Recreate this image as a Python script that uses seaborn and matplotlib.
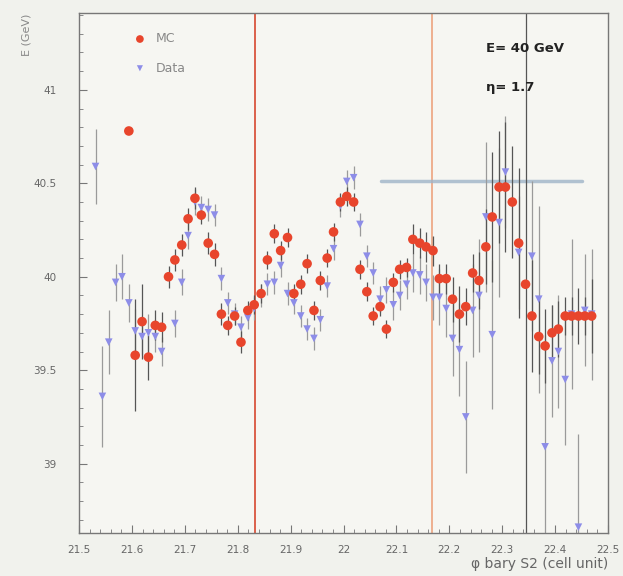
import numpy as np
import pandas as pd
import matplotlib
matplotlib.use("Agg")
import matplotlib.pyplot as plt
from matplotlib.ticker import MultipleLocator
import seaborn as sns

# --- MC points (phi bary S2, E, error) ---
mc_x = [21.594, 21.606, 21.619, 21.631, 21.644, 21.656, 21.669, 21.681, 21.694, 21.706,
        21.719, 21.731, 21.744, 21.756, 21.769, 21.781, 21.794, 21.806, 21.819, 21.831,
        21.844, 21.856, 21.869, 21.881, 21.894, 21.906, 21.919, 21.931, 21.944, 21.956,
        21.969, 21.981, 21.994, 22.006, 22.019, 22.031, 22.044, 22.056, 22.069, 22.081,
        22.094, 22.106, 22.119, 22.131, 22.144, 22.156, 22.169, 22.181, 22.194, 22.206,
        22.219, 22.231, 22.244, 22.256, 22.269, 22.281, 22.294, 22.306, 22.319, 22.331,
        22.344, 22.356, 22.369, 22.381, 22.394, 22.406, 22.419, 22.431, 22.444, 22.456,
        22.469]
mc_y = [40.78, 39.58, 39.76, 39.57, 39.74, 39.73, 40.00, 40.09, 40.17, 40.31,
        40.42, 40.33, 40.18, 40.12, 39.80, 39.74, 39.79, 39.65, 39.82, 39.85,
        39.91, 40.09, 40.23, 40.14, 40.21, 39.91, 39.96, 40.07, 39.82, 39.98,
        40.10, 40.24, 40.40, 40.43, 40.40, 40.04, 39.92, 39.79, 39.84, 39.72,
        39.97, 40.04, 40.05, 40.20, 40.18, 40.16, 40.14, 39.99, 39.99, 39.88,
        39.80, 39.84, 40.02, 39.98, 40.16, 40.32, 40.48, 40.48, 40.40, 40.18,
        39.96, 39.79, 39.68, 39.63, 39.70, 39.72, 39.79, 39.79, 39.79, 39.79,
        39.79]
mc_err = [0.0, 0.30, 0.20, 0.12, 0.08, 0.08, 0.06, 0.06, 0.06, 0.06,
          0.06, 0.05, 0.06, 0.06, 0.06, 0.05, 0.05, 0.06, 0.05, 0.05,
          0.05, 0.05, 0.05, 0.05, 0.05, 0.05, 0.05, 0.05, 0.05, 0.05,
          0.05, 0.05, 0.05, 0.05, 0.05, 0.05, 0.05, 0.05, 0.05, 0.05,
          0.05, 0.05, 0.05, 0.08, 0.08, 0.08, 0.08, 0.08, 0.08, 0.12,
          0.15, 0.10, 0.10, 0.15, 0.20, 0.35, 0.30, 0.35, 0.30, 0.40,
          1.50, 0.30, 0.20, 0.20, 0.15, 0.15, 0.10, 0.10, 0.15, 0.10,
          0.20]

# --- Data points ---
data_x = [21.531, 21.544, 21.556, 21.569, 21.581, 21.594, 21.606, 21.619, 21.631, 21.644,
          21.656, 21.681, 21.694, 21.706, 21.719, 21.731, 21.744, 21.756, 21.769, 21.781,
          21.794, 21.806, 21.819, 21.831, 21.844, 21.856, 21.869, 21.881, 21.894, 21.906,
          21.919, 21.931, 21.944, 21.956, 21.969, 21.981, 21.994, 22.006, 22.019, 22.031,
          22.044, 22.056, 22.069, 22.081, 22.094, 22.106, 22.119, 22.131, 22.144, 22.156,
          22.169, 22.181, 22.194, 22.206, 22.219, 22.231, 22.244, 22.256, 22.269, 22.281,
          22.294, 22.306, 22.331, 22.356, 22.369, 22.381, 22.394, 22.406, 22.419, 22.431,
          22.444, 22.456, 22.469]
data_y = [40.59, 39.36, 39.65, 39.97, 40.00, 39.86, 39.71, 39.68, 39.70, 39.68,
          39.60, 39.75, 39.97, 40.22, 40.40, 40.37, 40.36, 40.33, 39.99, 39.86,
          39.80, 39.73, 39.78, 39.83, 39.90, 39.96, 39.97, 40.06, 39.91, 39.86,
          39.79, 39.72, 39.67, 39.77, 39.95, 40.15, 40.38, 40.51, 40.53, 40.28,
          40.11, 40.02, 39.88, 39.93, 39.85, 39.90, 39.96, 40.02, 40.01, 39.97,
          39.89, 39.89, 39.83, 39.67, 39.61, 39.25, 39.82, 39.90, 40.32, 39.69,
          40.29, 40.56, 40.13, 40.11, 39.88, 39.09, 39.55, 39.60, 39.45, 39.80,
          38.66, 39.82, 39.80]
data_err = [0.20, 0.27, 0.17, 0.10, 0.12, 0.10, 0.12, 0.10, 0.10, 0.08,
            0.08, 0.07, 0.07, 0.07, 0.07, 0.06, 0.06, 0.06, 0.06, 0.06,
            0.06, 0.06, 0.06, 0.06, 0.06, 0.06, 0.06, 0.06, 0.06, 0.06,
            0.06, 0.06, 0.06, 0.06, 0.06, 0.06, 0.06, 0.06, 0.06, 0.06,
            0.06, 0.06, 0.07, 0.07, 0.08, 0.08, 0.08, 0.10, 0.10, 0.10,
            0.12, 0.15, 0.15, 0.20, 0.25, 0.30, 0.25, 0.30, 0.40, 0.40,
            0.40, 0.30, 0.30, 0.40, 0.50, 0.60, 0.30, 0.30, 0.35, 0.40,
            0.50, 0.30, 0.35]

# vertical cell-boundary lines and the horizontal reference
vlines_x = [21.833, 22.167]
hline_y = 40.51
hline_x = [22.07, 22.45]

mc = pd.DataFrame({"x": mc_x, "y": mc_y, "err": mc_err})
data = pd.DataFrame({"x": data_x, "y": data_y, "err": data_err})

sns.set_style("ticks")
plt.rcParams['font.family'] = ['DejaVu Sans']

fig = plt.figure(figsize=(6.23, 5.76), dpi=100)
fig.patch.set_facecolor("#f1f2ed")
ax = fig.add_axes([0.127, 0.075, 0.849, 0.902])
ax.set_facecolor("#f6f6f2")

red = "#e8452c"
blue = "#8d8de8"

# cell lines
ax.axvline(vlines_x[0], color="#d9553e", lw=1.3, zorder=1)
ax.axvline(vlines_x[1], color="#eeaa88", lw=1.3, zorder=1)
ax.plot(hline_x, [hline_y, hline_y], color="#9fb4c8", lw=2.5, alpha=0.8, zorder=1)

# error bars
ax.errorbar(data["x"], data["y"], yerr=data["err"], fmt="none", ecolor="#9a9a9a",
            elinewidth=0.9, linestyle=":", zorder=2)
ax.errorbar(mc["x"], mc["y"], yerr=mc["err"], fmt="none", ecolor="#555555",
            elinewidth=0.9, zorder=2)

sns.scatterplot(data=data, x="x", y="y", ax=ax, marker="v", s=30, color=blue,
                edgecolor="none", zorder=3, label="Data")
sns.scatterplot(data=mc, x="x", y="y", ax=ax, marker="o", s=48, color=red,
                edgecolor="none", zorder=4, label="MC")

ax.set_xlim(21.5, 22.5)
ax.set_ylim(38.63, 41.41)
ax.xaxis.set_major_locator(MultipleLocator(0.1))
ax.xaxis.set_minor_locator(MultipleLocator(0.02))
ax.yaxis.set_major_locator(MultipleLocator(0.5))
ax.yaxis.set_minor_locator(MultipleLocator(0.1))
ax.set_yticks([39, 39.5, 40, 40.5, 41])
ax.set_yticklabels(["39", "39.5", "40", "40.5", "41"])
ax.set_xticks([21.5, 21.6, 21.7, 21.8, 21.9, 22.0, 22.1, 22.2, 22.3, 22.4, 22.5])
ax.set_xticklabels(["21.5", "21.6", "21.7", "21.8", "21.9", "22", "22.1", "22.2",
                    "22.3", "22.4", "22.5"])
ax.tick_params(axis="both", which="both", direction="in", colors="#777777",
               labelsize=7.5, labelcolor="#666666")
ax.tick_params(which="major", length=6)
ax.tick_params(which="minor", length=3)
ax.tick_params(axis="y", which="major", pad=16)
ax.tick_params(axis="x", which="major", pad=9)
for side in ["left", "bottom", "right", "top"]:
    ax.spines[side].set_color("#777777")
    ax.spines[side].set_linewidth(1.0)

ax.set_xlabel("φ bary S2 (cell unit)", fontsize=10, color="#666666", loc="right",
              labelpad=1)
ax.set_ylabel("E (GeV)", fontsize=8, color="#888888", loc="top")
ax.yaxis.set_label_coords(-0.09, 1.0)

handles, labels = ax.get_legend_handles_labels()
leg = ax.legend(handles[::-1], labels[::-1], loc="upper left", bbox_to_anchor=(0.07, 0.985),
                frameon=False, fontsize=9, labelcolor="#888888", handletextpad=0.3,
                labelspacing=1.3, markerscale=0.8)

ax.text(0.77, 0.925, "E= 40 GeV", transform=ax.transAxes, fontsize=9.5,
        fontweight="bold", color="#222222")
ax.text(0.77, 0.85, "η= 1.7", transform=ax.transAxes, fontsize=9.5,
        fontweight="bold", color="#222222")

fig.savefig("out.png", dpi=100, facecolor=fig.get_facecolor())
